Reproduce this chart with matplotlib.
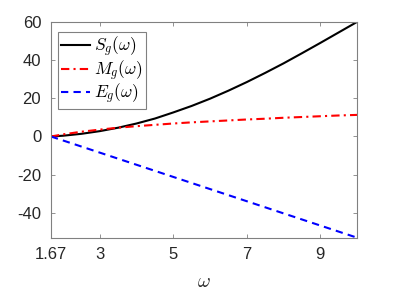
import matplotlib
matplotlib.use("Agg")
import matplotlib.pyplot as plt

omega = [1.67, 2, 2.5, 3, 3.5, 4, 4.5, 5, 5.5, 6, 6.5, 7, 7.5, 8, 8.5, 9, 9.5, 10]
S_g = [0, 0.4, 1.4, 2.8, 4.6, 6.8, 9.4, 12.6, 16.0, 19.8, 24.0, 28.5, 33.3, 38.3, 43.6, 49.0, 54.5, 60]
M_g = [0, 1.1, 2.5, 3.6, 4.6, 5.4, 6.1, 6.8, 7.4, 7.9, 8.4, 8.9, 9.3, 9.8, 10.2, 10.6, 11.0, 11.3]
omega_E = [1.67, 10]
E_g = [0, -53]

xticks = [1.67, 3, 5, 7, 9]
xticklabels = ['1.67', '3', '5', '7', '9']
yticks = [-40, -20, 0, 20, 40, 60]

plt.rcParams['font.family'] = ['Liberation Sans', 'DejaVu Sans']
plt.rcParams['mathtext.fontset'] = 'cm'
plt.rcParams['axes.unicode_minus'] = False

fig = plt.figure(figsize=(3.95, 2.96), dpi=100)
ax = fig.add_axes([0.129, 0.197, 0.775, 0.729])

ax.plot(omega, S_g, color='black', lw=1.5, label=r'$S_g(\omega)$')
ax.plot(omega, M_g, color='red', lw=1.5, linestyle=(0, (4, 2, 1, 2)), label=r'$M_g(\omega)$')
ax.plot(omega_E, E_g, color='blue', lw=1.5, linestyle=(0, (3.5, 2.5)), label=r'$E_g(\omega)$')

ax.set_xlim(1.67, 10)
ax.set_ylim(-53, 60)
ax.set_xticks(xticks)
ax.set_xticklabels(xticklabels)
ax.set_yticks(yticks)

gray = '#262626'
for sp in ax.spines.values():
    sp.set_color('#808080')
    sp.set_linewidth(0.8)
ax.tick_params(direction='in', top=True, right=True, length=3, width=0.6,
               color='#808080', labelcolor=gray, labelsize=12, pad=7)

ax.set_xlabel(r'$\omega$', fontsize=14, color=gray, labelpad=8)

leg = ax.legend(loc='upper left', bbox_to_anchor=(0.023, 0.954), borderaxespad=0,
                fontsize=12.5, fancybox=False, framealpha=1, edgecolor='#808080',
                handlelength=1.65, handletextpad=0.25, borderpad=0.2, labelspacing=-0.06)
leg.get_frame().set_linewidth(0.8)

fig.savefig('out.png', dpi=100)
